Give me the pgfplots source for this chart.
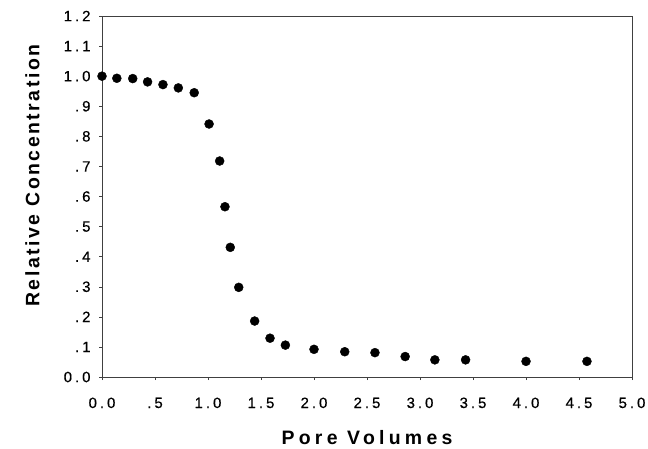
\documentclass[border=0pt]{standalone}
\usepackage{fontspec}
\setmainfont{Liberation Sans}
\newfontfamily\tickfont[LetterSpace=20,FakeBold=0.4]{Liberation Sans}
\newfontfamily\xlabfont[LetterSpace=22]{Liberation Sans}
\newfontfamily\ylabfont[LetterSpace=13]{Liberation Sans}
\usepackage{pgfplots}
\pgfplotsset{compat=1.18}
\begin{document}
\begin{tikzpicture}
\begin{axis}[
    name=ax,
    scale only axis,
    width=530bp, height=361bp,
    xmin=0, xmax=5,
    ymin=0, ymax=1.2,
    axis line style={black!75, line width=0.6pt},
    tick style={black!75, line width=0.5pt},
    tick align=outside,
    major tick length=3bp,
    xtick pos=lower, ytick pos=left,
    xtick={0,0.5,...,5},
    xticklabels={0.0,.5,1.0,1.5,2.0,2.5,3.0,3.5,4.0,4.5,5.0},
    ytick={0,0.1,...,1.2},
    yticklabels={0.0,.1,.2,.3,.4,.5,.6,.7,.8,.9,1.0,1.1,1.2},
    /pgf/number format/assume math mode=true,
    ticklabel style={font=\tickfont\fontsize{15}{15}\selectfont},
    xticklabel style={anchor=base, yshift=-28bp},
    yticklabel style={anchor=east, xshift=-5bp},
    xlabel={Pore Volumes},
    ylabel={Relative Concentration},
    xlabel style={font=\xlabfont\bfseries\fontsize{19.5}{19.5}\selectfont,
        at={(axis description cs:0.5,-0.188)}, anchor=base},
    ylabel style={font=\ylabfont\bfseries\fontsize{19.5}{19.5}\selectfont,
        at={(axis description cs:-0.118,0.558)}, anchor=base},
]
\addplot[only marks, mark=*, mark size=4.5bp, black] coordinates {
    (0.00,1.000) (0.14,0.993) (0.29,0.992) (0.43,0.981) (0.575,0.972)
    (0.72,0.961) (0.87,0.945) (1.01,0.841) (1.11,0.718) (1.16,0.566)
    (1.21,0.431) (1.29,0.298) (1.44,0.186) (1.585,0.129) (1.73,0.106)
    (2.00,0.092) (2.29,0.084) (2.575,0.081) (2.86,0.068) (3.14,0.057)
    (3.43,0.057) (4.00,0.052) (4.575,0.052)
};
\end{axis}
\pgfresetboundingbox
\path[use as bounding box] ([xshift=-102bp,yshift=-71bp]ax.south west)
    rectangle ([xshift=16bp,yshift=16bp]ax.north east);
\end{tikzpicture}
\end{document}
